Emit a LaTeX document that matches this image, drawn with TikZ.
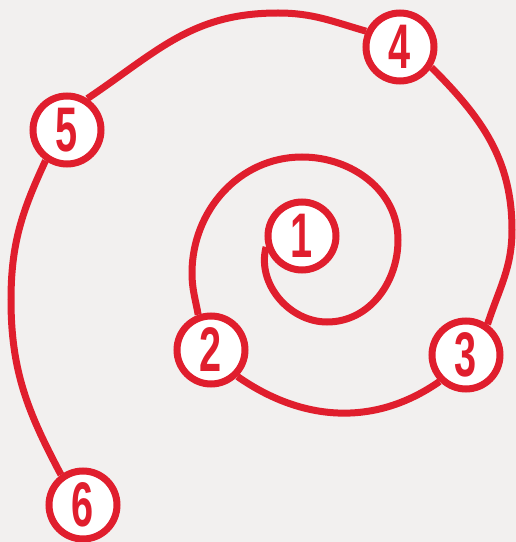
\documentclass[tikz,border=0pt]{standalone}
\usepackage{fontspec}
\setmainfont{Liberation Sans}
\usetikzlibrary{backgrounds}
\definecolor{spiralred}{RGB}{224,30,45}
\definecolor{bggray}{RGB}{242,240,239}
\tikzset{
  num/.style={circle, draw=spiralred, fill=white, line width=7pt, minimum size=68pt,
    inner sep=0pt, text=spiralred, font=\fontsize{63}{63}\selectfont\bfseries},
  spiral/.style={draw=spiralred, line width=7pt}
}
\newcommand{\digit}[1]{\scalebox{0.63}[1]{#1}}
\begin{document}
\begin{tikzpicture}[x=1pt,y=1pt]
\useasboundingbox (0,0) rectangle (516,542);
\node[num] (c1) at (302,306) {\digit{1}};
\node[num] (c2) at (211,192) {\digit{2}};
\node[num] (c3) at (466,187) {\digit{3}};
\node[num] (c4) at (400,495) {\digit{4}};
\node[num] (c5) at (67,412) {\digit{5}};
\node[num] (c6) at (83,37) {\digit{6}};
\begin{scope}[on background layer]
\fill[bggray] (0,0) rectangle (516,542);
\draw[spiral] (c1.197) to[out=255,in=180] (327,220) to[out=0,in=270] (398,302)
  to[out=90,in=0] (302,385) to[out=180,in=90] (192,269) to[out=270,in=100] (c2.110);
\draw[spiral] (c2.315) to[out=-35,in=215] (c3.225);
\draw[spiral] (c3.55) to[out=72,in=270] (512,312) to[out=90,in=-45] (c4.-33);
\draw[spiral] (c4.155) to[out=164,in=0] (278,529) to[out=180,in=34,looseness=1.05] (c5.57);
\draw[spiral] (c5.235) to[out=245,in=90] (11,242) to[out=270,in=118] (c6.126);
\end{scope}
\end{tikzpicture}
\end{document}
